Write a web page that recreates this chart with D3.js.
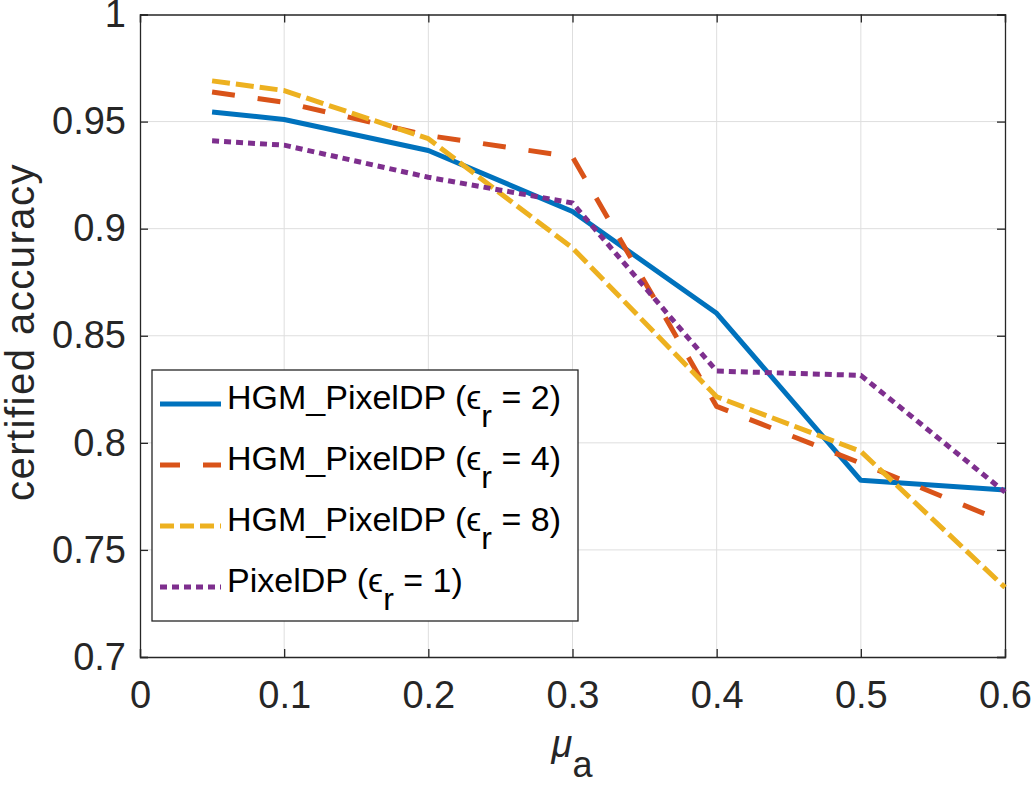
<!DOCTYPE html>
<html>
<head>
<meta charset="utf-8">
<script src="https://cdn.jsdelivr.net/npm/d3@7"></script>
<style>
  body { margin: 0; background: #fff; }
  text { font-family: "Liberation Sans", Arial, Helvetica, sans-serif; fill: #262626; }
</style>
</head>
<body>
<svg id="chart" width="1031" height="785"></svg>
<script>
// x values (mu_a)
var muA = [0.05, 0.1, 0.2, 0.3, 0.4, 0.5, 0.6];

// certified accuracy per method
var hgm2 = [0.9545, 0.9510, 0.9365, 0.9080, 0.8605, 0.7825, 0.7780];
var hgm4 = [0.9638, 0.9590, 0.9435, 0.9335, 0.8170, 0.7905, 0.7630];
var hgm8 = [0.9690, 0.9645, 0.9420, 0.8910, 0.8215, 0.7960, 0.7325];
var pixel = [0.9410, 0.9390, 0.9240, 0.9120, 0.8335, 0.8315, 0.7770];

var seriesNames = ["HGM_PixelDP", "HGM_PixelDP", "HGM_PixelDP", "PixelDP"];
var seriesEps = ["2", "4", "8", "1"];

var xTicks = [0, 0.1, 0.2, 0.3, 0.4, 0.5, 0.6];
var yTicks = [0.7, 0.75, 0.8, 0.85, 0.9, 0.95, 1];

var colors = ["#0072BD", "#D95319", "#EDB120", "#7E2F8E"];
var dashes = [null, "23,23", "18,6", "7,5"];

var svg = d3.select("#chart");
// plot box (avoid "top" – it is a read-only window property)
var pL = 140, pR = 1005, pT = 14.5, pB = 657;

var x = d3.scaleLinear().domain([0, 0.6]).range([pL, pR]);
var y = d3.scaleLinear().domain([0.7, 1]).range([pB, pT]);

// grid
svg.append("g").selectAll("line").data(xTicks.slice(1, -1)).enter().append("line")
  .attr("x1", d => x(d)).attr("x2", d => x(d))
  .attr("y1", pT).attr("y2", pB)
  .attr("stroke", "#dedede").attr("stroke-width", 1);
svg.append("g").selectAll("line").data(yTicks.slice(1, -1)).enter().append("line")
  .attr("x1", pL).attr("x2", pR)
  .attr("y1", d => y(d)).attr("y2", d => y(d))
  .attr("stroke", "#dedede").attr("stroke-width", 1);

// axes (ticks inward, labels outside)
var xAxis = d3.axisBottom(x).tickValues(xTicks).tickSize(-8).tickPadding(24)
  .tickFormat(d => d === 0 ? "0" : d3.format(".1f")(d));
var gx = svg.append("g").attr("transform", "translate(0," + pB + ")").call(xAxis);
var yAxis = d3.axisLeft(y).tickValues(yTicks).tickSize(-8).tickPadding(14)
  .tickFormat(d => d === 1 ? "1" : (Math.round(d * 100) % 10 === 0 ? d3.format(".1f")(d) : d3.format(".2f")(d)));
var gy = svg.append("g").attr("transform", "translate(" + pL + ",0)").call(yAxis);
svg.append("g").attr("transform", "translate(0," + pT + ")")
  .call(d3.axisTop(x).tickValues(xTicks).tickSize(-8).tickFormat(""));
svg.append("g").attr("transform", "translate(" + pR + ",0)")
  .call(d3.axisRight(y).tickValues(yTicks).tickSize(-8).tickFormat(""));

svg.selectAll(".domain").attr("stroke", "#262626").attr("stroke-width", 1.3);
svg.selectAll(".tick line").attr("stroke", "#262626").attr("stroke-width", 1.3);
svg.selectAll(".tick text").style("font-size", "38px").attr("fill", "#262626")
  .style("font-family", "'Liberation Sans', Arial, sans-serif");
gx.selectAll(".tick text").attr("dy", "0.71em");

// lines
var allSeries = [hgm2, hgm4, hgm8, pixel];
var line = d3.line().x((d, i) => x(muA[i])).y(d => y(d));
allSeries.forEach(function(s, k) {
  svg.append("path").datum(s)
    .attr("d", line)
    .attr("fill", "none")
    .attr("stroke", colors[k])
    .attr("stroke-width", 5)
    .attr("stroke-linejoin", "round")
    .attr("stroke-dasharray", dashes[k]);
});

// legend
var legend = svg.append("g");
legend.append("rect").attr("x", 152).attr("y", 370).attr("width", 426).attr("height", 251)
  .attr("fill", "#fff").attr("stroke", "#262626").attr("stroke-width", 1.3);
var rowY = [404, 465, 526, 587];
seriesNames.forEach(function(n, k) {
  legend.append("line").attr("x1", 160).attr("x2", 221)
    .attr("y1", rowY[k]).attr("y2", rowY[k])
    .attr("stroke", colors[k]).attr("stroke-width", 5)
    .attr("stroke-dasharray", k === 1 ? "20,23" : (k === 2 ? "14,6" : dashes[k]));
  var t = legend.append("text").attr("x", 227).attr("y", rowY[k] + 5)
    .style("font-size", "34px").style("fill", "#000");
  t.append("tspan").text(n + " (");
  t.append("tspan").text("\u03F5");
  t.append("tspan").text("r").attr("dy", 18).style("font-size", "32px");
  t.append("tspan").text(" = " + seriesEps[k] + ")").attr("dy", -18);
});

// axis labels
svg.append("text").attr("transform", "translate(34,332) rotate(-90)")
  .attr("text-anchor", "middle").style("font-size", "40px").style("letter-spacing", "1.5px")
  .text("certified accuracy");
var xl = svg.append("text").attr("x", 572).attr("y", 757).attr("text-anchor", "middle")
  .style("font-size", "38px");
xl.append("tspan").text("\u03BC").style("font-style", "italic");
xl.append("tspan").text("a").attr("dy", 20).style("font-size", "36px");
</script>
</body>
</html>
